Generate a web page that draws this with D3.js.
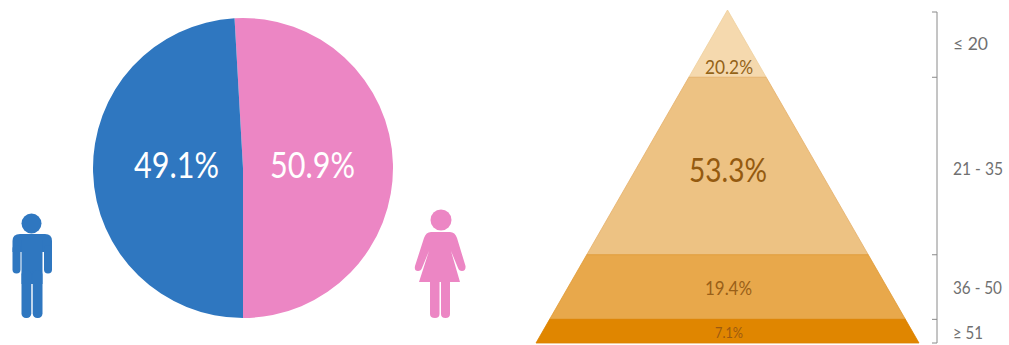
<!DOCTYPE html>
<html>
<head>
<meta charset="utf-8">
<script src="https://cdn.jsdelivr.net/npm/d3@7"></script>
<style>
  html, body { margin: 0; padding: 0; background: #fff; }
  svg { display: block; }
  text { font-family: Lato, "Open Sans", sans-serif; }
</style>
</head>
<body>
<div id="chart"></div>
<script>
const genderLabels = ["Female", "Male"];
const genderValues = [50.9, 49.1];
const genderColors = ["#ec86c4", "#2f77c0"];

const ageGroups = ["≤ 20", "21 - 35", "36 - 50", "≥ 51"];
const ageShares = [20.2, 53.3, 19.4, 7.1];
const ageColors = ["#f5d9ae", "#edc283", "#e8a84b", "#e08600"];
const ageEdges = ["#efcf9c", "#e6b06a", "#e19a35", "#dc8200"];
const ageTextColors = ["#936318", "#945a10", "#9a6018", "#9c5a10"];

const W = 1009, H = 345;
const svg = d3.select("#chart").append("svg").attr("width", W).attr("height", H);

// Gender split pie, with the male/female boundary falling straight down at the bottom
const pieCx = 243, pieCy = 168, pieR = 150;
const femaleSweep = genderValues[0] / 100 * 2 * Math.PI;
const pie = d3.pie().sort(null).startAngle(Math.PI - femaleSweep).endAngle(3 * Math.PI - femaleSweep);
const arc = d3.arc().innerRadius(0).outerRadius(pieR);
const pieG = svg.append("g").attr("transform", `translate(${pieCx},${pieCy})`);
pieG.selectAll("path").data(pie(genderValues)).join("path")
  .attr("d", arc)
  .attr("fill", (d, i) => genderColors[i]);
pieG.selectAll("text").data(pie(genderValues)).join("text")
  .attr("x", (d, i) => i === 0 ? 69.5 : -66.5)
  .attr("y", 10)
  .attr("text-anchor", "middle")
  .attr("font-size", 36)
  .attr("textLength", 85)
  .attr("lengthAdjust", "spacingAndGlyphs")
  .attr("fill", "#fff")
  .text(d => d.value.toFixed(1) + "%");

// Standing figures
function drawMan(color) {
  const g = svg.append("g").attr("fill", color);
  g.append("circle").attr("cx", 31.5).attr("cy", 223.5).attr("r", 10);
  g.append("path").attr("d", "M20 234H45Q52 234 52 241V252H12.500V241Q12.500 234 20 234Z");
  g.append("rect").attr("x", 12.5).attr("y", 245).attr("width", 8).attr("height", 28.5).attr("rx", 4);
  g.append("rect").attr("x", 44).attr("y", 245).attr("width", 8).attr("height", 28.5).attr("rx", 4);
  g.append("rect").attr("x", 21.5).attr("y", 240).attr("width", 21).attr("height", 44);
  g.append("rect").attr("x", 21.5).attr("y", 270).attr("width", 9.8).attr("height", 48).attr("rx", 4.5);
  g.append("rect").attr("x", 32.7).attr("y", 270).attr("width", 9.8).attr("height", 48).attr("rx", 4.5);
}
function drawWoman(color) {
  const g = svg.append("g").attr("fill", color);
  g.append("circle").attr("cx", 441).attr("cy", 220).attr("r", 10.5);
  g.append("path").attr("d",
    "M431 232H450Q455 232 457 238L465.500 266Q466 271 462 271Q459 271 458 268L451 251L460 282H450V314Q450 318 445.500 318Q441 318 441 314V282H439.500V314Q439.500 318 435 318Q430 318 430 314V282H419L429 251L422 268Q421 271 418 271Q414 271 415 266L424 238Q426 232 431 232Z");
}
drawMan(genderColors[1]);
drawWoman(genderColors[0]);

// Age pyramid: band heights follow the cumulative share from the apex down
const apexX = 727.5, halfBase = 191.5;
const cumulative = d3.cumsum(ageShares);
const yAge = d3.scaleLinear().domain([0, 100]).range([10, 343]);
const halfWidth = d3.scaleLinear().domain([0, 100]).range([0, halfBase]);
const bands = ageShares.map((v, i) => ({
  label: ageGroups[i],
  value: v,
  from: i === 0 ? 0 : cumulative[i - 1],
  to: cumulative[i]
}));
const trap = d => {
  const a = halfWidth(d.from), b = halfWidth(d.to);
  return d3.line()([
    [apexX - a, yAge(d.from)], [apexX + a, yAge(d.from)],
    [apexX + b, yAge(d.to)], [apexX - b, yAge(d.to)]
  ]) + "Z";
};
const pyramid = svg.append("g");
pyramid.selectAll("path").data(bands).join("path")
  .attr("d", trap)
  .attr("fill", (d, i) => ageColors[i])
  .attr("stroke", (d, i) => ageEdges[i])
  .attr("stroke-width", 0.8);

// Percent labels inside the bands
const shareLabelStyle = [
  { x: 729, y: 74, size: 20, len: 48 },
  { x: 728, y: 182, size: 33, len: 78 },
  { x: 728.5, y: 295, size: 18.5, len: 47 },
  { x: 729, y: 338, size: 15.5, len: 28 }
];
pyramid.selectAll("text").data(bands).join("text")
  .attr("x", (d, i) => shareLabelStyle[i].x)
  .attr("y", (d, i) => shareLabelStyle[i].y)
  .attr("text-anchor", "middle")
  .attr("font-size", (d, i) => shareLabelStyle[i].size)
  .attr("textLength", (d, i) => shareLabelStyle[i].len)
  .attr("lengthAdjust", "spacingAndGlyphs")
  .attr("fill", (d, i) => ageTextColors[i])
  .text(d => d.value.toFixed(1) + "%");

// Bracket and age labels to the right of the pyramid
const bracketX = 937, tickLeft = 932;
const bracket = svg.append("g").attr("fill", "none").attr("stroke", "#8a8a8a").attr("stroke-width", 1);
const edges = [0, ...cumulative];
bracket.append("line")
  .attr("x1", bracketX).attr("x2", bracketX)
  .attr("y1", yAge(0) + 2).attr("y2", yAge(100));
bracket.selectAll("path").data(edges).join("path")
  .attr("d", (d, i) => {
    const y = yAge(d) + (i === 0 ? 2 : 0);
    return d3.line()([[tickLeft, y], [bracketX, y]]);
  });
const ageLabelStyle = [
  { y: 50, len: 35 },
  { y: 175, len: 50 },
  { y: 294, len: 49 },
  { y: 339, len: 30 }
];
svg.append("g").selectAll("text").data(ageGroups).join("text")
  .attr("x", 953)
  .attr("y", (d, i) => ageLabelStyle[i].y)
  .attr("font-size", 17)
  .attr("textLength", (d, i) => ageLabelStyle[i].len)
  .attr("lengthAdjust", "spacingAndGlyphs")
  .attr("fill", "#707070")
  .text(d => d);
</script>
</body>
</html>
